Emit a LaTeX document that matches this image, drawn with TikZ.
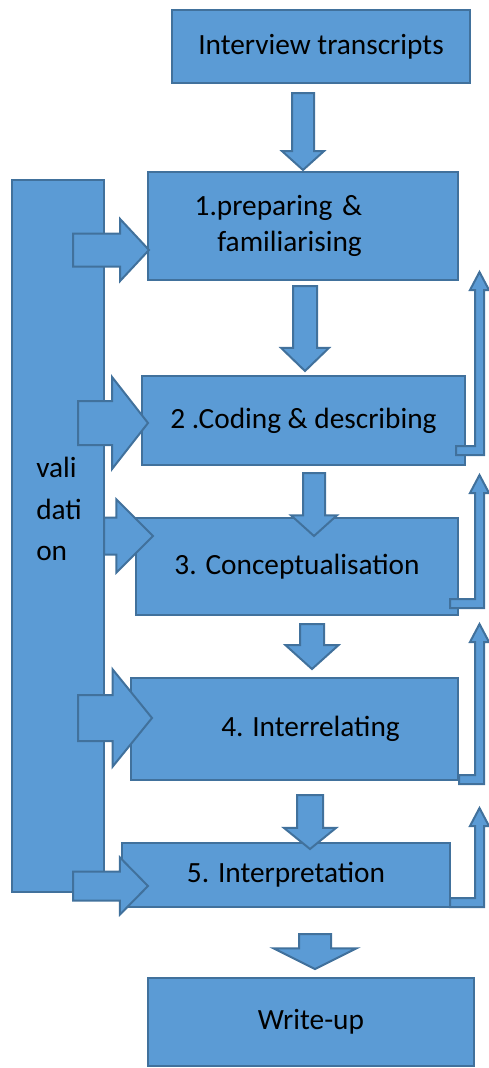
\documentclass[tikz,border=0pt]{standalone}
\usepackage{fontspec}
\setmainfont{Carlito}
\usetikzlibrary{shapes.arrows}
\definecolor{boxblue}{HTML}{5B9BD5}
\definecolor{edgeblue}{HTML}{41719C}
\tikzset{
    stagebox/.style={rectangle, draw=edgeblue, fill=boxblue, line width=1.5pt, align=center, inner sep=0pt, font=\fontsize{22}{27}\selectfont},
    blockarrow/.style={single arrow, draw=edgeblue, fill=boxblue, line width=1.5pt, inner xsep=0pt},
    backarrow/.style={draw=edgeblue, fill=boxblue, line width=1.5pt, line join=miter}
}

\begin{document}
\begin{tikzpicture}[x=0.75pt, y=-0.75pt]
    \useasboundingbox (0,0) rectangle (489,1068);
    % validation column
    \node[stagebox, minimum width=69pt, minimum height=534pt] (valid) at (58,536) {};
    \node[anchor=west, align=left, inner sep=0pt, font=\fontsize{22}{31}\selectfont] (validtxt) at (36,509) {vali\\dati\\on};
    % stages
    \node[stagebox, minimum width=223.5pt, minimum height=54.75pt] (src) at (321,46.5) {Interview transcripts};
    \node[stagebox, minimum width=232.5pt, minimum height=81pt, text width=232.5pt, align=left] (st1) at (303,226) {\hspace*{35pt}1.preparing \&\\\hspace*{52pt}familiarising};
    \node[stagebox, minimum width=242.25pt, minimum height=66.75pt] (st2) at (303.5,420.5) {2 .Coding \& describing};
    \node[stagebox, minimum width=241.5pt, minimum height=72.75pt] (st3) at (297,566.5) {3. Conceptualisation};
    \node[stagebox, minimum width=245.25pt, minimum height=76.5pt] (st4) at (294.5,729) {\hspace*{24pt}4. Interrelating};
    \node[stagebox, minimum width=246pt, minimum height=48pt] (st5) at (286,875) {5. Interpretation};
    \node[stagebox, minimum width=244.5pt, minimum height=66pt] (wup) at (311,1022) {Write-up};
    % down arrows between the stages
    \foreach \nm/\cx/\ytop/\alen/\sh/\hd/\ang in {0/303/92/77/20/40/96, 1/305/285/85/22/46/92, 2/314/472/63/20/44/96, 3/312/623/45/22/51/96, 4/310/794/54/24/50/102, 5/315/933/35/30/81/127} {
        \pgfmathsetmacro\ysep{\sh*0.375}
        \pgfmathsetmacro\ext{(\hd-\sh)*0.375}
        \pgfmathsetmacro\wid{\hd*0.75}
        \pgfmathsetmacro\lng{\alen*0.75}
        \node[blockarrow, rotate=-90, anchor=tail, inner ysep=\ysep pt, minimum width=\wid pt, minimum height=\lng pt, single arrow head extend=\ext pt, single arrow tip angle=\ang] (d\nm) at (\cx,\ytop) {};
    }
    % validation arrows into the stages
    \foreach \nm/\xt/\cy/\alen/\sh/\hd/\ang in {1/72/250/76/31/60/94, 2/77/423/70/42/90/104, 3/103/536/49/35/71/90, 4/77/718/74/44/95/102, 5/72/886/75/27/55/91} {
        \pgfmathsetmacro\ysep{\sh*0.375}
        \pgfmathsetmacro\ext{(\hd-\sh)*0.375}
        \pgfmathsetmacro\wid{\hd*0.75}
        \pgfmathsetmacro\lng{\alen*0.75}
        \node[blockarrow, anchor=tail, inner ysep=\ysep pt, minimum width=\wid pt, minimum height=\lng pt, single arrow head extend=\ext pt, single arrow tip angle=\ang] (s\nm) at (\xt,\cy) {};
    }
    % feedback arrows on the right
    \foreach \xs/\yb/\yt in {456/455/272, 450/608/475, 459/784/624, 450/907/808}
        \filldraw[backarrow] (\xs,\yb) -- (484,\yb) -- (484,\yt+18) -- (489,\yt+18) -- (479.5,\yt) -- (470,\yt+18) -- (475,\yt+18) -- (475,\yb-9) -- (\xs,\yb-9) -- cycle;
\end{tikzpicture}
\end{document}
